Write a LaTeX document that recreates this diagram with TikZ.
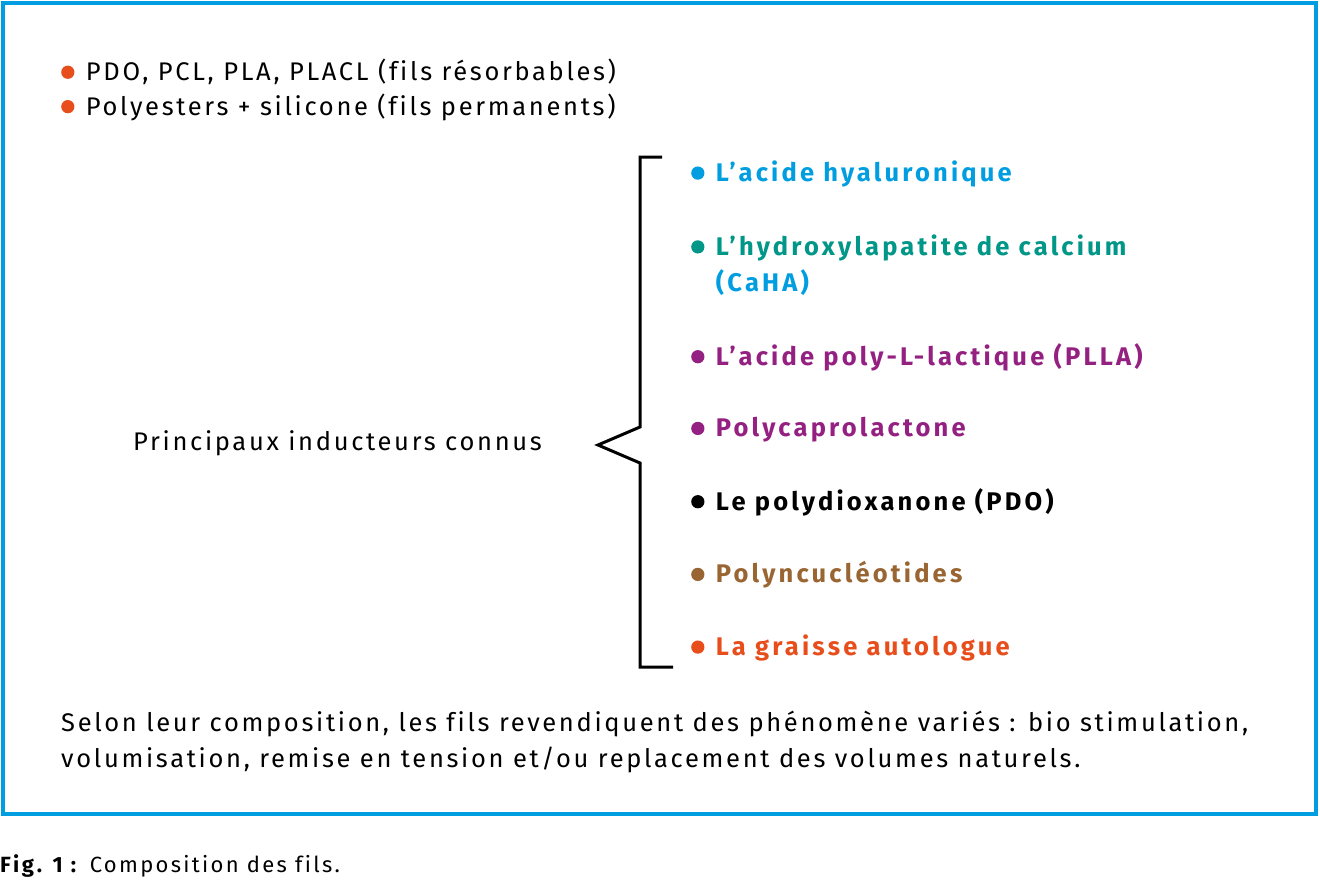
\documentclass[tikz,border=0pt]{standalone}
\usepackage{fontspec}
\setmainfont{Fira Sans}[LetterSpace=10.5, Ligatures=NoCommon, BoldFeatures={LetterSpace=12.5}]
\usetikzlibrary{positioning}

\definecolor{bleu}{RGB}{0,158,224}
\definecolor{turquoise}{RGB}{0,150,136}
\definecolor{violet}{RGB}{148,33,129}
\definecolor{brun}{RGB}{153,102,51}
\definecolor{orangefil}{RGB}{232,78,27}
\newcommand{\puce}[1]{\tikz[baseline=0pt]\fill[#1] (0.26em,0.33em) circle (0.26em);\hspace{0.45em}}

\begin{document}
\begin{tikzpicture}[x=1pt, y=-1pt,
  texte/.style={anchor=west, inner sep=0pt, align=left, font=\fontsize{25.5}{36}\selectfont},
  item/.style={texte, font=\fontsize{25.5}{36}\selectfont\bfseries},
  cadre/.style={draw=bleu, line width=4pt},
]
  \useasboundingbox (0,0) rectangle (1320,883);
  \draw[cadre] (3,3) rectangle (1316,814);

  % fils
  \node[texte] (resorb) at (61,72) {\puce{orangefil}PDO, PCL, PLA, PLACL (fils résorbables)};
  \node[texte] (perma) at (61,107) {\puce{orangefil}Polyesters + silicone (fils permanents)};

  % inducteurs
  \node[texte] (princ) at (133,443) {Principaux inducteurs connus};
  \draw[line width=3pt] (662,157) -- (640,157) -- (640,427) -- (598,445) -- (640,463) -- (640,667) -- (673,667);

  \node[item, text=bleu] (ah) at (691,174) {\puce{bleu}L’acide hyaluronique};
  \node[item, text=turquoise] (caha) at (691,265) {\puce{turquoise}L’hydroxylapatite de calcium\\\phantom{\puce{bleu}}\textcolor{bleu}{(CaHA)}};
  \node[item, text=violet] (plla) at (691,357) {\puce{violet}L’acide poly-L-lactique (PLLA)};
  \node[item, text=violet] (pcl) at (691,430) {\puce{violet}Polycaprolactone};
  \node[item, text=black] (pdo) at (691,502) {\puce{black}Le polydioxanone (PDO)};
  \node[item, text=brun] (pn) at (691,575) {\puce{brun}Polyncucléotides};
  \node[item, text=orangefil] (graisse) at (691,648) {\puce{orangefil}La graisse autologue};

  % conclusion
  \node[texte] (selon) at (61,742) {Selon leur composition, les fils revendiquent des phénomène variés : bio stimulation,\\volumisation, remise en tension et/ou replacement des volumes naturels.};

  \node[texte, font=\fontsize{22}{28}\selectfont] (legende) at (0,866) {\textbf{Fig. 1 :} Composition des fils.};
\end{tikzpicture}
\end{document}
